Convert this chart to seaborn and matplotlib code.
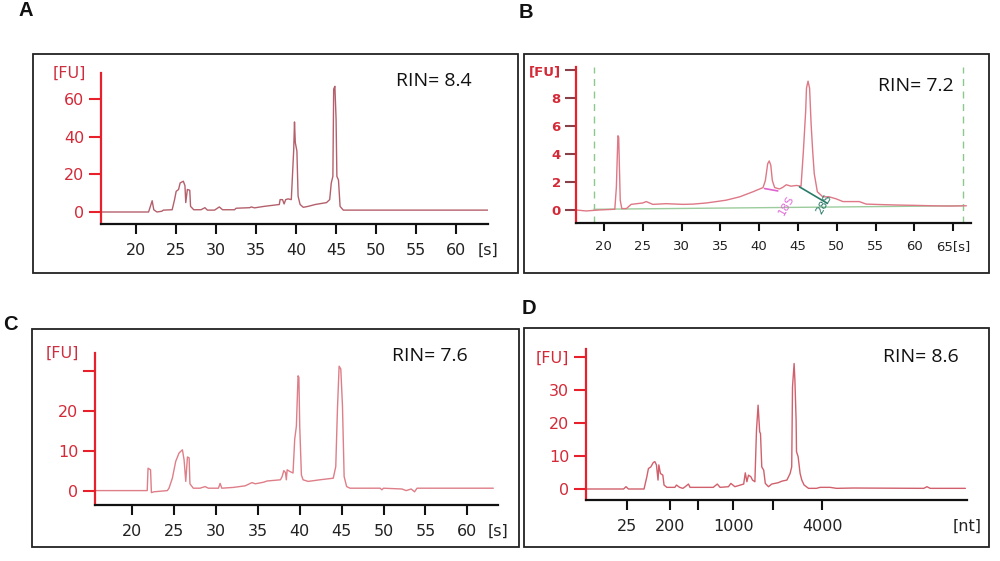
import numpy as np
import pandas as pd
import seaborn as sns
import matplotlib.pyplot as plt
from matplotlib.patches import Rectangle

# electropherogram traces (migration time [s], fluorescence [FU])
a_time = [15.6, 21.55, 22.0, 22.2, 22.6, 23.2, 23.4, 24.5, 24.8, 25.0, 25.3, 25.5, 25.9, 26.1, 26.2,
          26.4, 26.7, 26.8, 27.2, 28.1, 28.6, 28.9, 29.8, 30.4, 30.8, 32.3, 32.5, 34.2, 34.4, 34.8,
          36.0, 37.9, 38.0, 38.3, 38.5, 38.7, 39.0, 39.4, 39.7, 39.8, 39.9, 40.1, 40.25, 40.5, 40.9,
          41.5, 42.4, 43.8, 44.2, 44.4, 44.6, 44.7, 44.85, 45.0, 45.1, 45.3, 45.5, 45.9, 64.0]
a_fu = [0, 0, 6, 1.2, 0, 0.4, 1, 1.2, 6.6, 11, 12, 15.5, 16.4, 14, 5,
        12, 11.6, 3, 1.2, 1.2, 2.3, 1, 1, 2.7, 1.2, 1.2, 2, 2.3, 2.7, 2.2,
        3, 4, 6.6, 6.6, 4.3, 6.6, 7, 6.6, 33, 48, 37, 32.5, 8.4, 4, 2.5,
        3, 4, 5, 6.6, 15.5, 19, 65.5, 67, 49.5, 19, 17, 3, 1, 1]

b_time = [16.4, 17.7, 19.4, 21.4, 21.6, 21.8, 21.9, 22.1, 22.3, 22.9, 23.5, 25.0, 25.45, 26.3, 28.0,
          30.2, 31.5, 33.2, 34.5, 35.75, 37.5, 39.2, 40.5, 40.8, 41.1, 41.3, 41.5, 41.7, 42.0, 42.6,
          43.0, 43.5, 44.1, 44.8, 45.4, 45.7, 46.0, 46.1, 46.3, 46.5, 46.7, 46.9, 47.1, 47.5, 48.2,
          49.0, 49.9, 50.8, 52.9, 53.8, 56.0, 58.1, 60.0, 62.4, 64.5, 66.7]
b_fu = [0, -0.07, 0, 0.05, 1.6, 5.3, 5.2, 0.7, 0.1, 0.1, 0.4, 0.5, 0.6, 0.4, 0.45,
        0.4, 0.42, 0.5, 0.6, 0.7, 0.94, 1.3, 1.6, 2.1, 3.3, 3.5, 3.2, 2.1, 1.6, 1.5,
        1.6, 1.8, 1.7, 1.75, 1.7, 4.2, 7.1, 8.7, 9.2, 8.7, 6.1, 4.2, 2.6, 1.3, 0.94,
        0.94, 0.8, 0.6, 0.6, 0.42, 0.38, 0.35, 0.33, 0.3, 0.28, 0.3]

c_time = [15.6, 21.8, 21.9, 22.2, 22.3, 22.6, 24.2, 24.4, 24.8, 25.2, 25.6, 26.0, 26.2, 26.4, 26.6,
          26.8, 26.9, 27.3, 28.1, 28.7, 29.1, 30.3, 30.5, 30.7, 32.1, 33.5, 34.3, 34.7, 35.7, 36.1,
          37.7, 37.9, 38.1, 38.3, 38.4, 38.5, 38.8, 39.2, 39.4, 39.6, 39.8, 39.9, 40.0, 40.2, 40.4,
          41.0, 42.4, 44.0, 44.3, 44.5, 44.7, 44.9, 45.1, 45.3, 45.6, 46.0, 49.6, 49.8, 50.0, 52.2,
          52.7, 53.3, 53.7, 54.0, 63.1]
c_fu = [0, 0, 5.6, 5.2, -0.5, -0.3, 0, 0.6, 3.1, 7.3, 9.4, 10.2, 7.7, 2.3, 8.4,
        8.2, 1.7, 0.6, 0.6, 1.0, 0.6, 0.6, 1.8, 0.6, 0.8, 1.2, 2.0, 1.7, 2.1, 2.4,
        2.7, 3.5, 5.0, 4.5, 2.7, 5.2, 4.8, 4.4, 12.8, 16.1, 28.7, 28.3, 16.1, 3.9, 2.7,
        2.3, 2.7, 3.1, 6.0, 20.3, 31.1, 30.4, 21.2, 3.5, 1.0, 0.6, 0.6, 0.2, 0.6, 0.4,
        0, 0.4, -0.3, 0.6, 0.6]

d_time = [16.0, 20.7, 21.0, 21.3, 23.25, 23.6, 23.8, 24.1, 24.4, 24.6, 24.8, 25.0, 25.1, 25.3, 25.6,
          25.75, 26.1, 27.1, 27.3, 27.7, 28.1, 28.4, 28.8, 29.0, 31.9, 32.4, 32.75, 33.8, 34.1, 34.6,
          35.7, 35.9, 36.1, 36.3, 36.6, 36.8, 37.1, 37.3, 37.5, 37.7, 37.8, 37.96, 38.2, 38.4, 38.8,
          39.2, 40.0, 40.5, 41.1, 41.5, 41.7, 41.8, 42.0, 42.1, 42.25, 42.3, 42.5, 42.75, 42.96, 43.25,
          43.8, 44.8, 45.25, 46.5, 47.3, 49.4, 58.2, 58.6, 59.0, 63.4]
d_fu = [0, 0, 0.7, 0, 0, 3.7, 6.2, 6.7, 8.0, 8.3, 7.3, 2.7, 7.3, 4.7, 4.2,
        1.2, 0.5, 0.5, 1.2, 0.5, 0.2, 0.7, 1.5, 0.5, 0.5, 1.5, 0.5, 0.7, 1.7, 0.7,
        1.5, 4.9, 2.2, 4.2, 3.7, 2.7, 2.2, 17.8, 25.4, 17.3, 16.8, 6.7, 5.7, 1.7, 0.7,
        1.5, 1.9, 2.4, 2.7, 4.7, 6.7, 30.9, 38.0, 32.9, 20.8, 11.3, 9.8, 4.7, 2.7, 1.2,
        0.2, 0.2, 0.5, 0.5, 0.2, 0.3, 0.2, 0.7, 0.2, 0.2]

rin_values = ["8.4", "7.2", "7.6", "8.6"]
panel_letters = ["A", "B", "C", "D"]

time_ticks = [20, 25, 30, 35, 40, 45, 50, 55, 60]
b_time_ticks = [20, 25, 30, 35, 40, 45, 50, 55, 60, 65]
b_time_labels = ["20", "25", "30", "35", "40", "45", "50", "55", "60", "65[s]"]
a_fu_ticks = [0, 20, 40, 60]
b_fu_ticks = [0, 2, 4, 6, 8, 10]
c_fu_ticks = [0, 10, 20, 30]
d_fu_ticks = [0, 10, 20, 30, 40]

# RNA ladder sizes and their migration positions in panel D
ladder_nt = [25, 200, 500, 1000, 2000, 4000]
ladder_time = [21.1, 26.5, 30.0, 34.4, 39.4, 45.5]
ladder_labels = ["25", "200", "", "1000", "", "4000"]

# panel B extras: gate lines, baseline, 18S / 28S peak markers
b_gates = [18.7, 66.3]
b_baseline_t = [18.7, 66.3]
b_baseline_fu = [0.05, 0.3]
s18_t = [40.7, 42.4]
s18_fu = [1.53, 1.36]
s28_t = [45.2, 48.8]
s28_fu = [1.65, 0.47]
b_marks = [41.9, 46.8]

sns.set_style("white")
plt.rcParams['font.family'] = ['DejaVu Sans']

W, H = 1000, 561
fig = plt.figure(figsize=(10, 5.61), dpi=100)


def frac(x0, y0, x1, y1):
    return [x0 / W, 1 - y1 / H, (x1 - x0) / W, (y1 - y0) / H]


def draw_box(x0, y0, x1, y1):
    fig.patches.append(Rectangle((x0 / W, 1 - y1 / H), (x1 - x0) / W, (y1 - y0) / H,
                                 transform=fig.transFigure, fill=False,
                                 edgecolor="#222222", linewidth=1.3))


def style_axes(ax, xlim, ylim, yticks, ylabels, ytick_col, fsize, ylen=9, xlen=7.5):
    ax.set_xlim(*xlim)
    ax.set_ylim(*ylim)
    ax.patch.set_alpha(0)
    for s in ["top", "right"]:
        ax.spines[s].set_visible(False)
    ax.spines["left"].set_color("#e8202c")
    ax.spines["left"].set_linewidth(1.6)
    ax.spines["bottom"].set_color("#111111")
    ax.spines["bottom"].set_linewidth(1.6)
    ax.set_yticks(yticks)
    ax.set_yticklabels(ylabels)
    ax.tick_params(axis="y", direction="out", length=ylen, width=1.5, color=ytick_col,
                   labelcolor="#d42a38", labelsize=fsize, pad=3, left=True)
    ax.tick_params(axis="x", direction="out", length=xlen, width=1.5, color="#111111",
                   labelcolor="#222222", labelsize=fsize, pad=6, bottom=True)
    ax.set_xlabel("")
    ax.set_ylabel("")


def trace(ax, t, fu, color):
    df = pd.DataFrame({"time": t, "fu": fu})
    sns.lineplot(data=df, x="time", y="fu", ax=ax, color=color, linewidth=1.0,
                 estimator=None, sort=False)


# ---- panel A
draw_box(33, 54, 518, 273)
axA = fig.add_axes(frac(101, 73, 488, 224))
trace(axA, a_time, a_fu, "#b4606c")
style_axes(axA, (15.6, 64.0), (-6.4, 74.1), a_fu_ticks, [str(v) for v in a_fu_ticks], "#e8202c", 11.5)
axA.set_xticks(time_ticks)
axA.text(-0.04, 1.0, "[FU]", transform=axA.transAxes, ha="right", va="center",
         color="#cc3040", fontsize=11.5)
axA.annotate("[s]", xy=(1.0, 0), xycoords="axes fraction", xytext=(0, -13.5),
             textcoords="offset points", ha="center", va="top", fontsize=11.5, color="#222222")
axA.text(0.86, 0.95, f"RIN= {rin_values[0]}", transform=axA.transAxes, ha="center", va="center",
         fontsize=14, family="Open Sans", color="#111111")

# ---- panel B
draw_box(524, 54, 989, 273)
axB = fig.add_axes(frac(576, 67, 971, 223))
for g in b_gates:
    axB.axvline(g, color="#8cc88c", linewidth=1.0, linestyle=(0, (5, 4)), ymin=0, ymax=1)
axB.plot(b_baseline_t, b_baseline_fu, color="#9ccc9c", linewidth=1.0)
trace(axB, b_time, b_fu, "#de7886")
axB.plot(s18_t, s18_fu, color="#e060d0", linewidth=1.2)
axB.plot(s28_t, s28_fu, color="#2a7a68", linewidth=1.2)
axB.text(43.5, 0.35, "18S", color="#e070d8", fontsize=8, rotation=60, ha="center", va="center")
axB.text(48.4, 0.42, "28S", color="#2a7a68", fontsize=8, rotation=60, ha="center", va="center")
style_axes(axB, (16.4, 67.3), (-0.93, 10.21), b_fu_ticks,
           [str(v) for v in b_fu_ticks[:-1]] + ["[FU]"], "#8a4048", 9.5, ylen=8, xlen=6)
for lab in axB.get_yticklabels():
    lab.set_fontweight("bold")
axB.set_xticks(b_time_ticks)
axB.set_xticklabels(b_time_labels)
axB.set_xticks(b_marks, minor=True)
axB.tick_params(axis="x", which="minor", direction="in", length=5, width=1.3, color="#111111")
axB.text(0.86, 0.88, f"RIN= {rin_values[1]}", transform=axB.transAxes, ha="center", va="center",
         fontsize=14, family="Open Sans", color="#111111")

# ---- panel C
draw_box(32, 329, 519, 547)
axC = fig.add_axes(frac(95, 353, 498, 505))
trace(axC, c_time, c_fu, "#de7e88")
style_axes(axC, (15.57, 63.66), (-3.6, 34.4), c_fu_ticks, ["0", "10", "20", ""], "#e8202c", 11.5)
axC.set_xticks(time_ticks)
axC.text(-0.04, 1.0, "[FU]", transform=axC.transAxes, ha="right", va="center",
         color="#cc3040", fontsize=11.5)
axC.annotate("[s]", xy=(1.0, 0), xycoords="axes fraction", xytext=(0, -13.5),
             textcoords="offset points", ha="center", va="top", fontsize=11.5, color="#222222")
axC.text(0.83, 0.98, f"RIN= {rin_values[2]}", transform=axC.transAxes, ha="center", va="center",
         fontsize=14, family="Open Sans", color="#111111")

# ---- panel D
draw_box(524, 328, 989, 547)
axD = fig.add_axes(frac(586, 349, 967, 500))
trace(axD, d_time, d_fu, "#d0606c")
style_axes(axD, (16.0, 63.6), (-3.33, 42.4), d_fu_ticks,
           [str(v) for v in d_fu_ticks[:-1]] + ["[FU]"], "#e8202c", 11.5)
axD.set_xticks(ladder_time)
axD.set_xticklabels(ladder_labels)
axD.annotate("[nt]", xy=(1.0, 0), xycoords="axes fraction", xytext=(0, -13.5),
             textcoords="offset points", ha="center", va="top", fontsize=11.5, color="#222222")
axD.text(0.88, 0.95, f"RIN= {rin_values[3]}", transform=axD.transAxes, ha="center", va="center",
         fontsize=14, family="Open Sans", color="#111111")

# panel letters
for letter, (px, py) in zip(panel_letters, [(26, 11), (526, 12), (10, 324), (529, 309)]):
    fig.text(px / W, 1 - py / H, letter, ha="center", va="center", fontsize=14.5,
             family="Liberation Sans", weight="bold", color="#111111")

fig.savefig("out.png", dpi=100)
